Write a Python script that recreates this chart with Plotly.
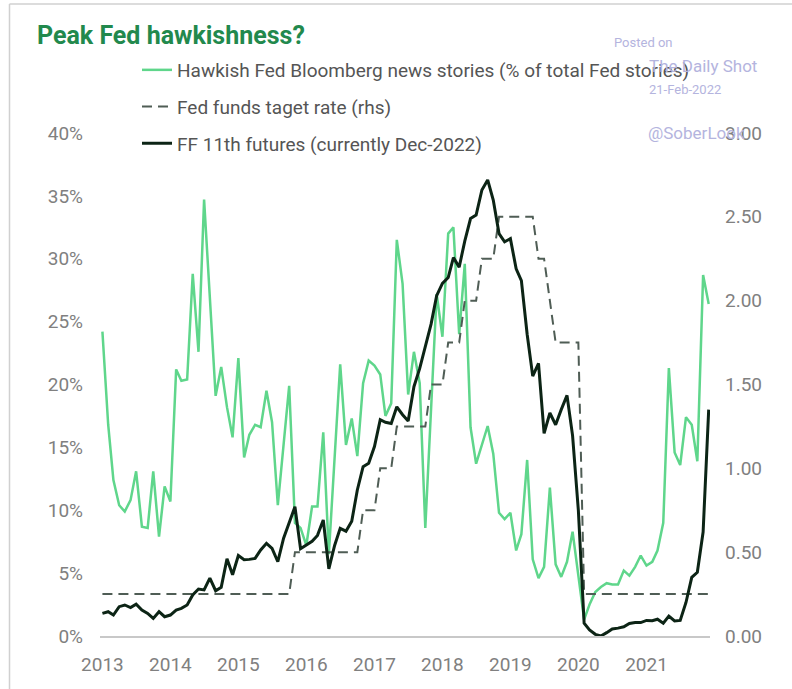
import pandas as pd
import plotly.graph_objects as go

# ---- data (monthly) ----
dates = pd.date_range("2013-01-01", periods=108, freq="MS")

hawkish_pct = [
    24.2, 16.8, 12.4, 10.4, 9.9, 10.8, 13.1, 8.7, 8.6, 13.1, 7.9, 11.9,
    10.7, 21.2, 20.3, 20.4, 28.8, 22.6, 34.7, 27.0, 19.1, 21.4, 18.2, 15.8,
    22.1, 14.2, 16.0, 16.8, 16.6, 19.5, 17.0, 10.4, 15.0, 19.9, 9.0, 8.6,
    7.2, 10.3, 10.3, 16.2, 6.5, 14.0, 21.6, 15.2, 17.3, 14.3, 20.1, 21.9,
    21.5, 20.8, 17.5, 18.5, 31.5, 28.0, 19.2, 22.6, 20.1, 8.6, 18.0, 27.2,
    23.8, 32.0, 32.5, 24.0, 29.6, 16.6, 13.7, 15.2, 16.7, 14.5, 9.8, 9.3,
    9.8, 6.8, 8.1, 14.0, 6.1, 4.6, 5.5, 11.8, 5.7, 4.7, 5.9, 8.3,
    4.8, 1.3, 2.5, 3.5, 3.9, 4.2, 4.1, 4.1, 5.2, 4.8, 5.5, 6.4,
    5.6, 5.9, 6.8, 9.0, 21.3, 14.6, 13.6, 17.4, 16.8, 13.9, 28.7, 26.4,
]

fed_funds_target = (
    [0.25] * 34 + [0.5] * 12 + [0.75] * 3 + [1.0] * 3 + [1.25] * 6
    + [1.5] * 3 + [1.75] * 3 + [2.0] * 3 + [2.25] * 3 + [2.5] * 7
    + [2.25] * 2 + [2.0] * 1 + [1.75] * 5 + [0.25] * 23
)

ff11_futures = [
    0.135, 0.145, 0.125, 0.175, 0.185, 0.17, 0.19, 0.155, 0.135, 0.105, 0.145, 0.115,
    0.125, 0.155, 0.165, 0.185, 0.245, 0.28, 0.275, 0.345, 0.27, 0.29, 0.46, 0.365,
    0.48, 0.455, 0.457, 0.463, 0.513, 0.553, 0.523, 0.443, 0.583, 0.68, 0.771, 0.52,
    0.545, 0.565, 0.60, 0.692, 0.40, 0.54, 0.642, 0.625, 0.685, 0.871, 1.01, 1.03,
    1.13, 1.29, 1.275, 1.268, 1.367, 1.32, 1.283, 1.487, 1.596, 1.725, 1.86, 2.03,
    2.103, 2.138, 2.257, 2.20, 2.355, 2.49, 2.51, 2.66, 2.72, 2.60, 2.40, 2.351,
    2.37, 2.19, 2.12, 1.80, 1.55, 1.626, 1.209, 1.33, 1.26, 1.35, 1.435, 1.195,
    0.75, 0.076, 0.036, 0.01, 0.0, 0.02, 0.042, 0.047, 0.055, 0.075, 0.08, 0.08,
    0.093, 0.091, 0.10, 0.076, 0.119, 0.09, 0.093, 0.2, 0.35, 0.38, 0.62, 1.35,
]

left_ticks = [0, 5, 10, 15, 20, 25, 30, 35, 40]
right_ticks = [0.0, 0.5, 1.0, 1.5, 2.0, 2.5, 3.0]

names = [
    "Hawkish Fed Bloomberg news stories (% of total Fed stories)",
    "Fed funds taget rate (rhs)",
    "FF 11th futures (currently Dec-2022)",
]

FONT = "Roboto, Arial, sans-serif"
TICK_COLOR = "#808080"

fig = go.Figure()
fig.add_trace(go.Scatter(
    x=dates, y=hawkish_pct, name=names[0], mode="lines", yaxis="y",
    line=dict(color="#5fd68b", width=2.5), legendgroup="a",
))
fig.add_trace(go.Scatter(
    x=dates, y=fed_funds_target, name=names[1], mode="lines", yaxis="y2",
    line=dict(color="#4f5d55", width=2, dash="10px,6px"), legendgroup="b",
))
fig.add_trace(go.Scatter(
    x=dates, y=ff11_futures, name=names[2], mode="lines", yaxis="y2",
    line=dict(color="#0c2415", width=3), legendgroup="c",
))

def px_x(px):
    return (px - 100) / 610.0

def px_y(py):
    return (636 - py) / 503.0

wm_color = "#b4b4de"
annotations = [
    dict(text="Posted on", x=px_x(612), y=px_y(43), font=dict(size=13, color=wm_color)),
    dict(text="The Daily Shot", x=px_x(647), y=px_y(66), font=dict(size=17, color=wm_color)),
    dict(text="21-Feb-2022", x=px_x(647), y=px_y(90), font=dict(size=13, color=wm_color)),
    dict(text="@SoberLook", x=px_x(646), y=px_y(133), font=dict(size=17, color=wm_color)),
]
for a in annotations:
    a.update(xref="paper", yref="paper", xanchor="left", yanchor="middle",
             showarrow=False)
    a["font"]["family"] = FONT

fig.update_layout(
    width=792, height=689,
    margin=dict(l=100, r=82, t=133, b=53),
    paper_bgcolor="white", plot_bgcolor="white",
    font=dict(family=FONT, color="#555555"),
    title=dict(text="<b>Peak Fed hawkishness?</b>", x=37 / 792, xanchor="left",
               y=1 - 35 / 689, yanchor="middle",
               font=dict(family=FONT, size=25, color="#22894d")),
    showlegend=True,
    legend=dict(x=px_x(137), xanchor="left", y=px_y(51), yanchor="top",
                font=dict(family=FONT, size=19, color="#555555"),
                bgcolor="rgba(0,0,0,0)", traceorder="grouped",
                tracegroupgap=9, itemwidth=30),
    xaxis=dict(type="date", range=["2012-12-19", "2021-12-08"],
               tickformat="%Y", dtick="M12", tick0="2013-01-01",
               showgrid=False, zeroline=False, showline=True,
               linecolor="#c8c8c8", linewidth=2, ticks="",
               ticklabelstandoff=10,
               tickfont=dict(family=FONT, size=19, color=TICK_COLOR)),
    yaxis=dict(range=[0, 40], tickvals=left_ticks,
               ticktext=[f"{v}%" for v in left_ticks],
               showgrid=False, zeroline=False, showline=False, ticks="",
               ticklabelstandoff=16,
               tickfont=dict(family=FONT, size=19, color=TICK_COLOR)),
    yaxis2=dict(range=[0, 3], overlaying="y", side="right", tickvals=right_ticks,
                tickformat=".2f", showgrid=False, zeroline=False, showline=False,
                ticks="", ticklabelstandoff=14,
                tickfont=dict(family=FONT, size=19, color=TICK_COLOR)),
    annotations=annotations,
    shapes=[
        dict(type="line", xref="paper", yref="paper",
             x0=px_x(9.5), x1=px_x(9.5), y0=px_y(700), y1=px_y(4),
             line=dict(color="#d0d0d0", width=1.5)),
        dict(type="line", xref="paper", yref="paper",
             x0=px_x(9.5), x1=px_x(800), y0=px_y(4), y1=px_y(4),
             line=dict(color="#d0d0d0", width=1.5)),
    ],
)

fig.write_html("out.html",
               config={"displayModeBar": False},
               post_script="document.body.style.margin='0';document.body.style.overflow='hidden';")
